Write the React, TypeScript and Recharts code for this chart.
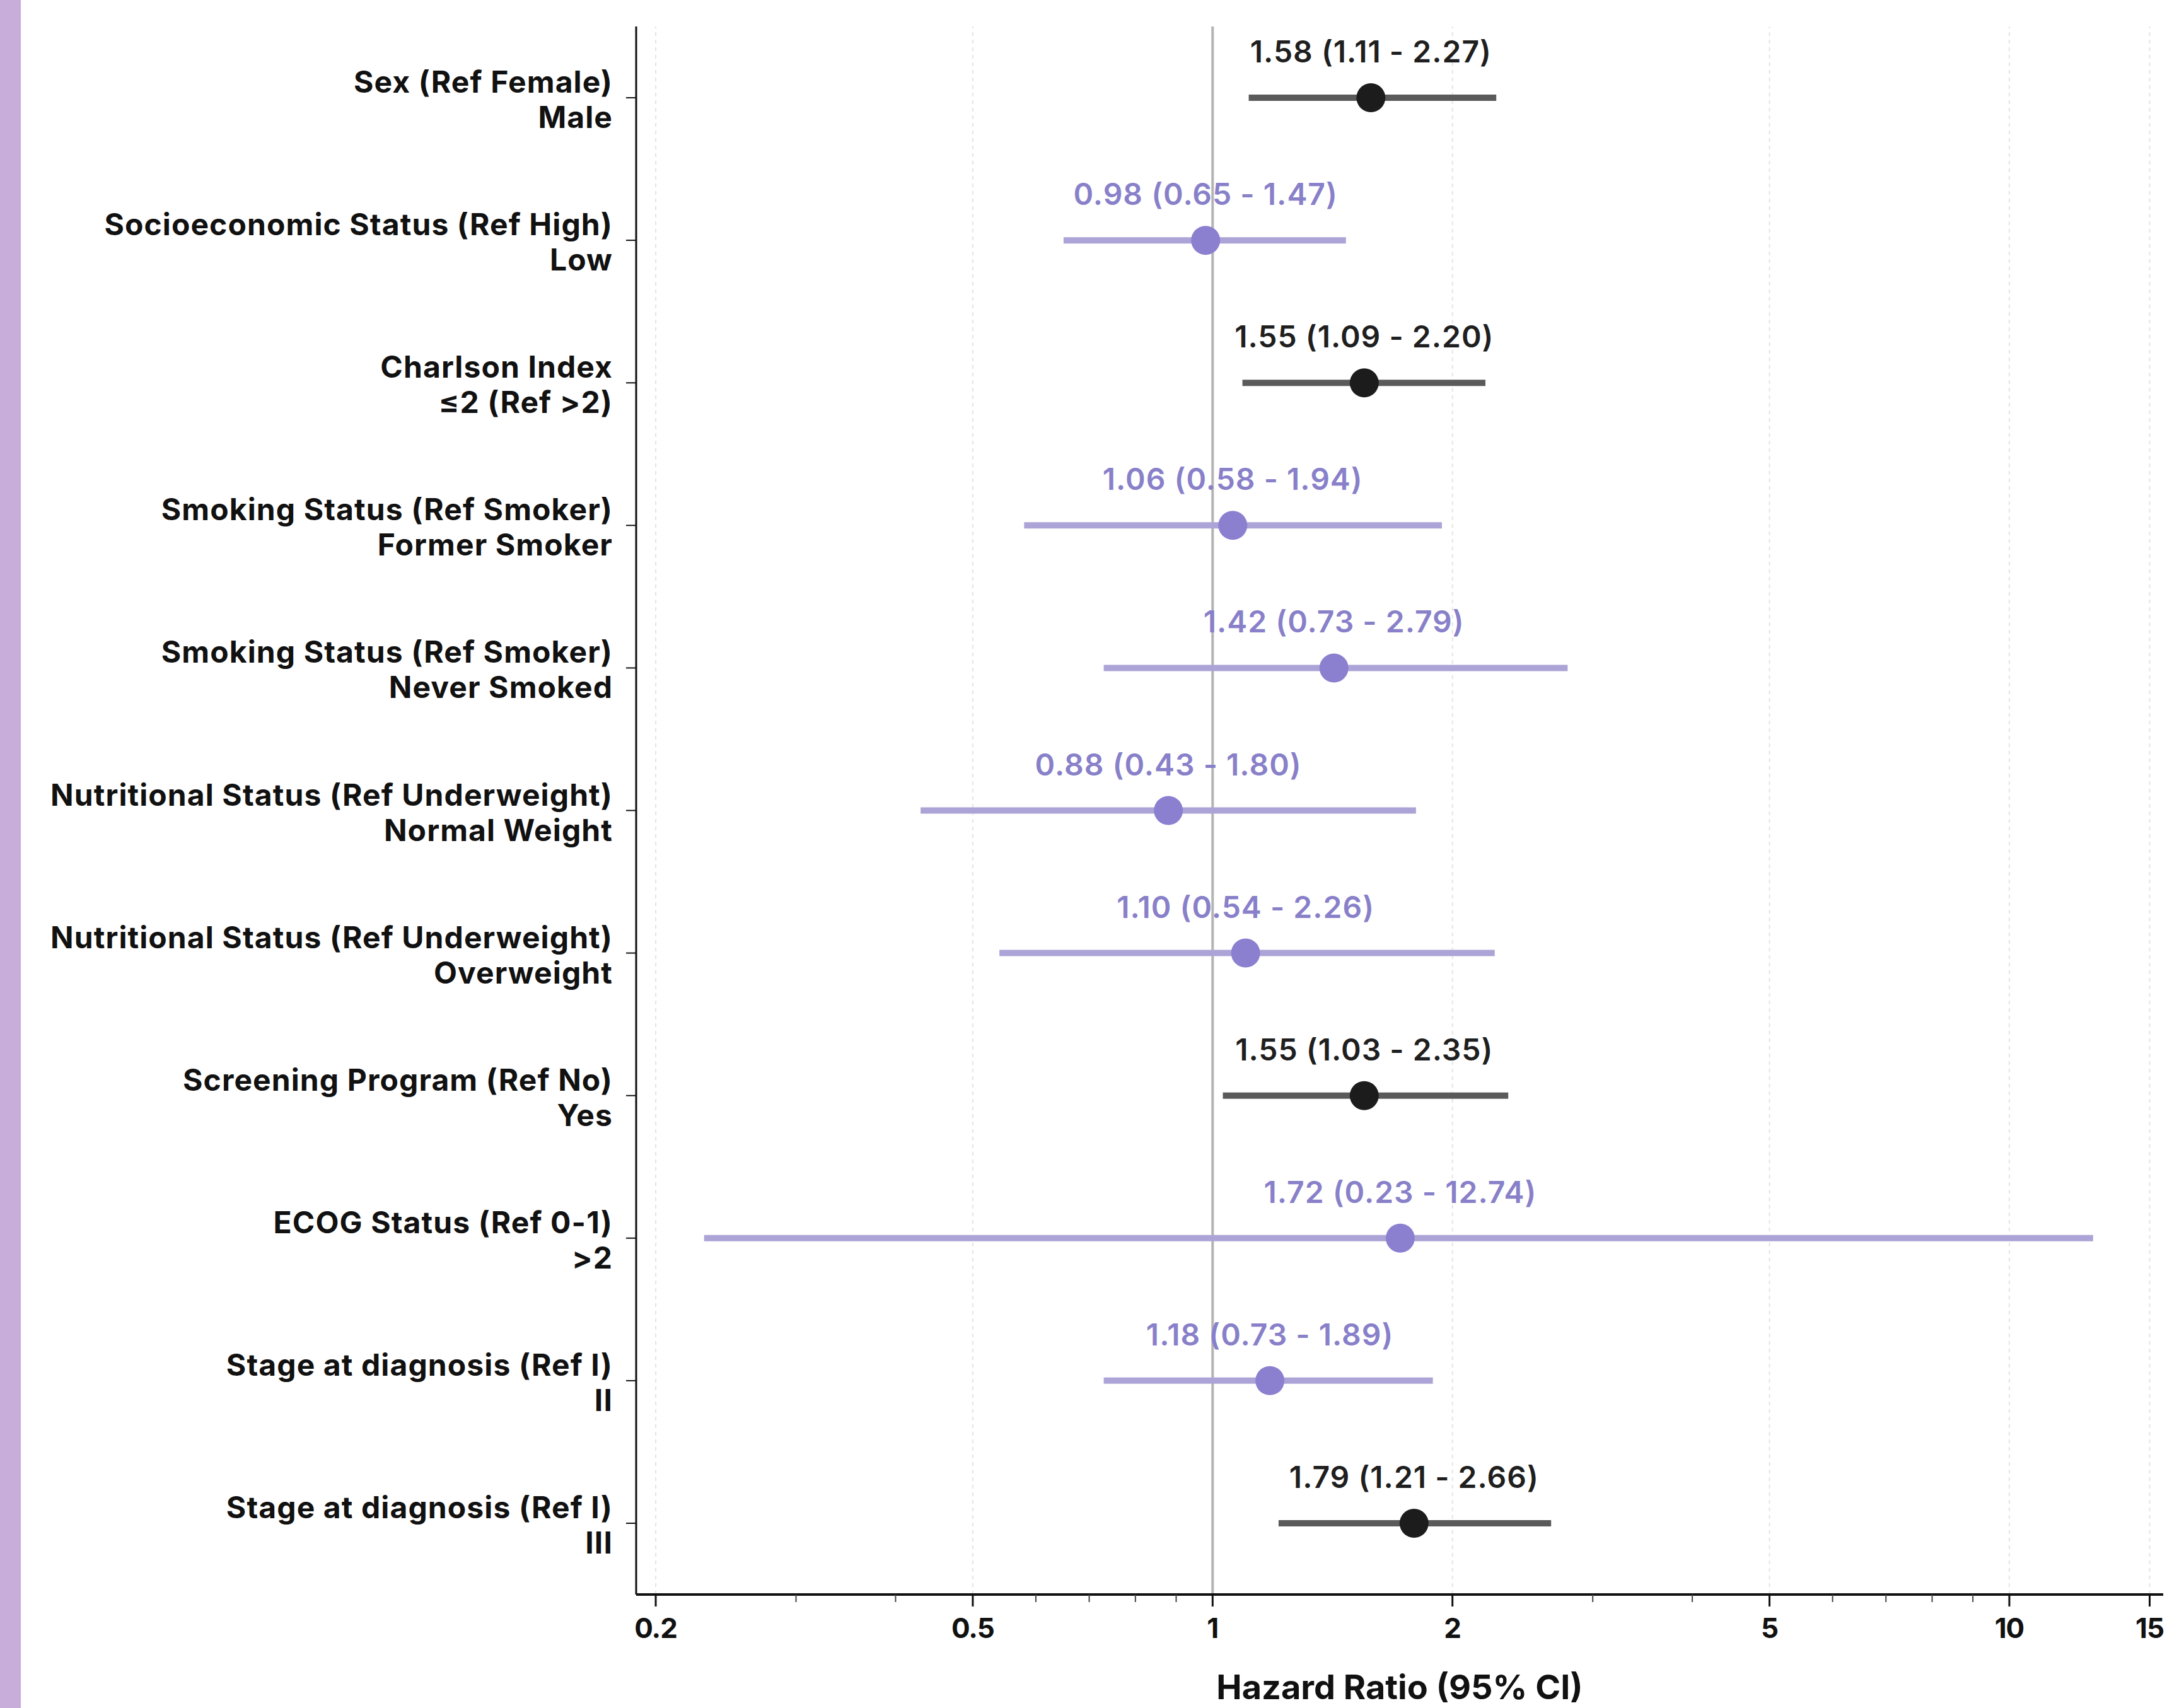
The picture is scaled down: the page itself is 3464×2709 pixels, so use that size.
import React from 'react';
import { ScatterChart, Scatter, XAxis, YAxis, ErrorBar, ReferenceLine } from 'recharts';

const groups = [
  'Sex (Ref Female)',
  'Socioeconomic Status (Ref High)',
  'Charlson Index',
  'Smoking Status (Ref Smoker)',
  'Smoking Status (Ref Smoker)',
  'Nutritional Status (Ref Underweight)',
  'Nutritional Status (Ref Underweight)',
  'Screening Program (Ref No)',
  'ECOG Status (Ref 0-1)',
  'Stage at diagnosis (Ref I)',
  'Stage at diagnosis (Ref I)',
];
const levels = ['Male', 'Low', '≤2 (Ref >2)', 'Former Smoker', 'Never Smoked', 'Normal Weight', 'Overweight', 'Yes', '>2', 'II', 'III'];
const hazardRatio = [1.58, 0.98, 1.55, 1.06, 1.42, 0.88, 1.1, 1.55, 1.72, 1.18, 1.79];
const ciLower = [1.11, 0.65, 1.09, 0.58, 0.73, 0.43, 0.54, 1.03, 0.23, 0.73, 1.21];
const ciUpper = [2.27, 1.47, 2.2, 1.94, 2.79, 1.8, 2.26, 2.35, 12.74, 1.89, 2.66];
const significant = [true, false, true, false, false, false, false, true, false, false, true];

const majorTicks = [0.2, 0.5, 1, 2, 5, 10, 15];
const minorTicks = [0.3, 0.4, 0.6, 0.7, 0.8, 0.9, 3, 4, 6, 7, 8, 9];
const allTicks = [...majorTicks, ...minorTicks].sort((a, b) => a - b);
const gridTicks = [0.2, 0.5, 2, 5, 10, 15];
const rowIndex = groups.map((_, i) => i);

const FONT = 'Inter, Roboto, "Liberation Sans", sans-serif';
const DARK_POINT = '#1c1c1c';
const DARK_LINE = '#5a5a5a';
const DARK_TEXT = '#1f1f1f';
const PURPLE_POINT = '#8b7fd0';
const PURPLE_LINE = '#aca4d6';
const PURPLE_TEXT = '#8880c9';

const rows = hazardRatio.map((v, i) => ({
  x: v,
  y: i,
  err: [v - ciLower[i], ciUpper[i] - v],
  label: `${v.toFixed(2)} (${ciLower[i].toFixed(2)} - ${ciUpper[i].toFixed(2)})`,
}));
const sigRows = rows.filter((_, i) => significant[i]);
const nonSigRows = rows.filter((_, i) => !significant[i]);

const makeShape = (fill: string, textColor: string) => (props: any) => {
  const { cx, cy, payload } = props;
  if (cx == null || cy == null) return null;
  return (
    <g>
      <circle cx={cx} cy={cy} r={23} fill={fill} />
      <text
        x={cx}
        y={cy - 56}
        textAnchor="middle"
        fill={textColor}
        fontFamily={FONT}
        fontWeight={600}
        fontSize={48}
        letterSpacing={1}
      >
        {payload.label}
      </text>
    </g>
  );
};

const YTick = (props: any) => {
  const { x, y, payload } = props;
  const i = payload.value;
  return (
    <g>
      <line x1={x - 16} x2={x} y1={y} y2={y} stroke="#111" strokeWidth={2} />
      <text x={x - 37} y={y - 8} textAnchor="end" fill="#111" fontFamily={FONT} fontWeight={700} fontSize={48} letterSpacing={1.1}>
        {groups[i]}
      </text>
      <text x={x - 37} y={y + 48} textAnchor="end" fill="#111" fontFamily={FONT} fontWeight={700} fontSize={48} letterSpacing={1.1}>
        {levels[i]}
      </text>
    </g>
  );
};

const XTick = (props: any) => {
  const { x, y, payload } = props;
  const v = payload.value;
  const isMajor = majorTicks.includes(v);
  return (
    <g>
      <line x1={x} x2={x} y1={y} y2={y + (isMajor ? 19 : 12)} stroke={isMajor ? '#111' : '#444'} strokeWidth={isMajor ? 3 : 2} />
      {isMajor && (
        <text x={x} y={y + 69} textAnchor="middle" fill="#111" fontFamily={FONT} fontWeight={700} fontSize={44} letterSpacing={-1}>
          {String(v)}
        </text>
      )}
    </g>
  );
};

export default function App() {
  return (
    <div style={{ position: 'absolute', left: 0, top: 0, width: 3464, height: 2709, background: '#fff' }}>
      <div style={{ position: 'absolute', left: 0, top: 0, width: 33, height: 2709, background: '#c8acd9' }} />
      <div style={{ position: 'absolute', left: 0, top: 0 }}>
        <ScatterChart width={3464} height={2709} margin={{ top: 42, right: 33, bottom: 0, left: 0 }}>
          <XAxis
            type="number"
            dataKey="x"
            scale="log"
            domain={[0.189, 15.6]}
            allowDataOverflow
            ticks={allTicks}
            interval={0}
            tick={<XTick />}
            tickLine={false}
            tickSize={0}
            tickMargin={0}
            height={180}
            axisLine={{ stroke: '#111', strokeWidth: 4 }}
            label={{
              content: (p: any) => {
                const vb = p.viewBox || {};
                return (
                  <text
                    x={(vb.x ?? 1009) + (vb.width ?? 2422) / 2}
                    y={(vb.y ?? 2529) + 166}
                    textAnchor="middle"
                    fill="#111"
                    fontFamily={FONT}
                    fontWeight={700}
                    fontSize={54}
                    letterSpacing={0}
                  >
                    Hazard Ratio (95% CI)
                  </text>
                );
              },
            }}
          />
          <YAxis
            type="number"
            dataKey="y"
            domain={[-0.5, 10.5]}
            reversed
            ticks={rowIndex}
            interval={0}
            width={1009}
            tick={<YTick />}
            tickLine={false}
            tickSize={0}
            tickMargin={0}
            axisLine={{ stroke: '#111', strokeWidth: 3 }}
          />
          {gridTicks.map((t) => (
            <ReferenceLine key={t} x={t} stroke="#e4e4e4" strokeWidth={2} strokeDasharray="6 6" ifOverflow="extendDomain" />
          ))}
          <ReferenceLine x={1} stroke="#b3b3b3" strokeWidth={4} />
          <Scatter data={nonSigRows} isAnimationActive={false} shape={makeShape(PURPLE_POINT, PURPLE_TEXT)}>
            <ErrorBar dataKey="err" direction="x" width={0} stroke={PURPLE_LINE} strokeWidth={10} />
          </Scatter>
          <Scatter data={sigRows} isAnimationActive={false} shape={makeShape(DARK_POINT, DARK_TEXT)}>
            <ErrorBar dataKey="err" direction="x" width={0} stroke={DARK_LINE} strokeWidth={10} />
          </Scatter>
        </ScatterChart>
      </div>
    </div>
  );
}
